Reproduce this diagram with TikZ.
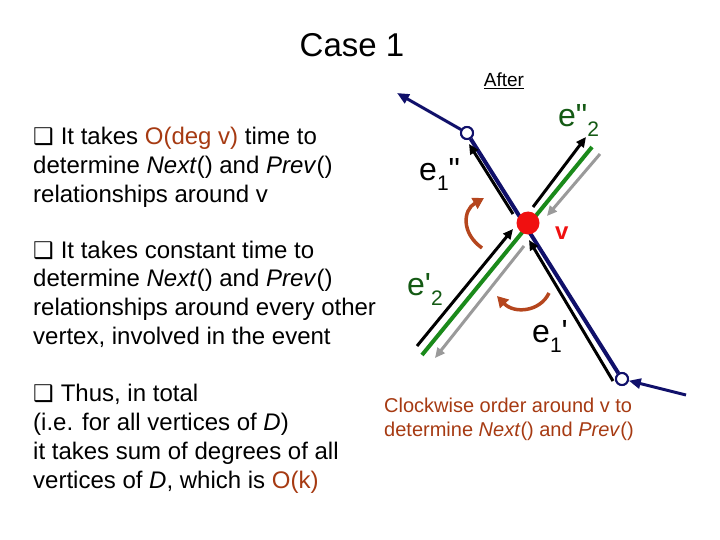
\documentclass[tikz,border=0pt]{standalone}
\usepackage{fontspec}
\setmainfont{Liberation Sans}
\newfontfamily\symfont{DejaVu Sans}
\usetikzlibrary{arrows.meta}
\definecolor{navyline}{HTML}{10106A}
\definecolor{greenline}{HTML}{1A8A1A}
\definecolor{greenlabel}{HTML}{145A14}
\definecolor{grayline}{HTML}{9A9A9A}
\definecolor{turncolor}{HTML}{B5461E}
\definecolor{ordercolor}{HTML}{A63A12}
\definecolor{vertexred}{HTML}{F01010}
\newcommand{\qbox}{{\symfont\fontsize{23}{23}\selectfont ❑}\hspace{7pt}}
\newcommand{\lsub}[1]{\raisebox{-10pt}{\fontsize{21}{21}\selectfont #1}}

\begin{document}
\begin{tikzpicture}[
    x=1pt, y=-1pt,
    bodytext/.style={anchor=base west, inner sep=0pt, align=left,
        font=\fontsize{24}{28.7}\selectfont},
    edgelabel/.style={anchor=base west, inner sep=0pt,
        font=\fontsize{32}{32}\selectfont},
    edgeline/.style={line width=4pt},
    halfedge/.style={line width=3pt, -{Triangle[length=10pt,width=9pt]}},
    turn/.style={turncolor, line width=3.5pt, -{Triangle[length=11pt,width=12pt]}},
    endpoint/.style={circle, draw=navyline, fill=white, line width=2pt,
        minimum size=12pt, inner sep=0pt}
]
    \useasboundingbox (0,0) rectangle (720,540);

    % Title
    \node[anchor=base, inner sep=0pt, font=\fontsize{33}{33}\selectfont] (title) at (352,57) {Case 1};

    % Left column text (base anchor = last line)
    \node[bodytext] (para1) at (33,202.4) {\qbox It takes \textcolor{ordercolor}{O(deg v)} time to\\
        determine \textit{Next}() and \textit{Prev}()\\
        relationships around v};
    \node[bodytext] (para2) at (33,344.1) {\qbox It takes constant time to\\
        determine \textit{Next}() and \textit{Prev}()\\
        relationships around every other\\
        vertex, involved in the event};
    \node[bodytext] (para3) at (33,488) {\qbox Thus, in total\\
        (i.e. for all vertices of \textit{D})\\
        it takes sum of degrees of all\\
        vertices of \textit{D}, which is \textcolor{ordercolor}{O(k)}};

    % Diagram
    \node[anchor=base, inner sep=0pt, font=\fontsize{19}{19}\selectfont] (after) at (504,87) {\underline{After}};

    \coordinate (farA) at (397,93);
    \coordinate (farB) at (686,395);
    \coordinate (gLow) at (422,355);
    \coordinate (gHigh) at (592,147);
    \node[endpoint] (endA) at (467,133) {};
    \node[endpoint] (endB) at (622,379) {};

    % green edge and blue edge
    \draw[greenline, edgeline] (gLow) -- (gHigh);
    \draw[navyline, edgeline] (endA) -- (endB);
    \draw[navyline, line width=3pt, -{Triangle[length=12pt,width=10pt]}] (endA) -- (farA);
    \draw[navyline, line width=3pt, -{Triangle[length=12pt,width=10pt]}] (farB) -- (endB);

    % half-edges
    \draw[halfedge] (513,214) -- (469,144);
    \draw[halfedge] (533,207) -- (586,137);
    \draw[halfedge] (417,346) -- (513,229);
    \draw[halfedge] (613,381) -- (529,240);
    \draw[halfedge, grayline] (600,154) -- (547,216);
    \draw[halfedge, grayline] (524,246) -- (435,358);

    % clockwise turns
    \draw[turn] (482,248) .. controls (461,233) and (463,210) .. (484,198);
    \draw[turn] (549,293) .. controls (540,312) and (514,314) .. (497,296);

    % vertex v
    \node[circle, fill=vertexred, minimum size=23pt, inner sep=0pt] (v) at (528,223) {};
    \node[anchor=base west, inner sep=0pt, text=vertexred,
        font=\fontsize{24}{24}\selectfont\bfseries] (vlabel) at (555,240) {v};
    \node[endpoint] at (endA) {};
    \node[endpoint] at (endB) {};

    % edge labels
    \node[edgelabel] (e1pp) at (419,181) {e\lsub{1}\textquotedbl};
    \node[edgelabel, text=greenlabel] (e2pp) at (558,127) {e\textquotedbl\lsub{2}};
    \node[edgelabel, text=greenlabel] (e2p) at (407,295) {e\textquotesingle\lsub{2}};
    \node[edgelabel] (e1p) at (532,342) {e\lsub{1}\textquotesingle};

    \node[anchor=base west, inner sep=0pt, align=left, text=ordercolor,
        font=\fontsize{20}{24}\selectfont] (note) at (384,436)
        {Clockwise order around v to\\determine \textit{Next}() and \textit{Prev}()};
\end{tikzpicture}
\end{document}
